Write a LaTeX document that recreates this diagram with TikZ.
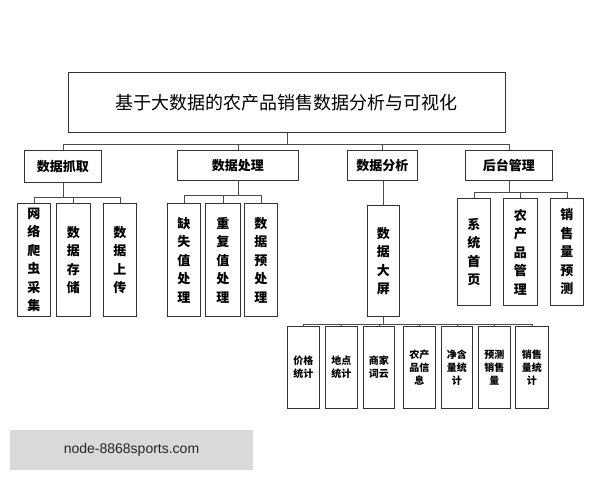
\documentclass[tikz,border=0pt]{standalone}
\usepackage{fontspec}
\setmainfont{Noto Sans CJK SC}
\newfontfamily\latinsf{Liberation Sans}
\begin{document}
\begin{tikzpicture}[x=1pt,y=-1pt,
  box/.style={draw=black!80,line width=0.8pt,inner sep=0pt,anchor=north west},
  vbox/.style={box,align=center,font=\fontsize{13}{18.5}\selectfont\bfseries},
  sbox/.style={box,align=center,font=\fontsize{10}{13}\selectfont\bfseries},
  link/.style={draw=black!70,line width=0.6pt}]
\useasboundingbox (0,0) rectangle (600,480);
% title
\node[box,minimum width=437pt,minimum height=60pt,font=\fontsize{18}{21}\selectfont] (top) at (68,72) {基于大数据的农产品销售数据分析与可视化};
% level one
\node[box,minimum width=77pt,minimum height=32pt,font=\fontsize{13}{16}\selectfont\bfseries] (grab) at (24,150) {数据抓取};
\node[box,minimum width=121pt,minimum height=30pt,font=\fontsize{13}{16}\selectfont\bfseries] (proc) at (177,150) {数据处理};
\node[box,minimum width=70pt,minimum height=30pt,font=\fontsize{13}{16}\selectfont\bfseries] (anal) at (347,150) {数据分析};
\node[box,minimum width=87pt,minimum height=30pt,font=\fontsize{13}{16}\selectfont\bfseries] (back) at (465,150) {后台管理};
% level two
\node[vbox,minimum width=33pt,minimum height=113pt] (g1) at (17,203) {网\\络\\爬\\虫\\采\\集};
\node[vbox,minimum width=34pt,minimum height=113pt] (g2) at (56,203) {数\\据\\存\\储};
\node[vbox,minimum width=33pt,minimum height=113pt] (g3) at (103,203) {数\\据\\上\\传};
\node[vbox,minimum width=33pt,minimum height=113pt] (p1) at (167,203) {缺\\失\\值\\处\\理};
\node[vbox,minimum width=35pt,minimum height=113pt] (p2) at (205,203) {重\\复\\值\\处\\理};
\node[vbox,minimum width=33pt,minimum height=113pt] (p3) at (244,203) {数\\据\\预\\处\\理};
\node[vbox,minimum width=32pt,minimum height=111pt] (a1) at (367,205) {数\\据\\大\\屏};
\node[vbox,minimum width=33pt,minimum height=107pt] (b1) at (457,198) {系\\统\\首\\页};
\node[vbox,minimum width=34pt,minimum height=107pt] (b2) at (503,198) {农\\产\\品\\管\\理};
\node[vbox,minimum width=33pt,minimum height=107pt] (b3) at (550,198) {销\\售\\量\\预\\测};
% level three
\node[sbox,minimum width=32pt,minimum height=82pt] (s1) at (287,326) {价格\\统计};
\node[sbox,minimum width=32pt,minimum height=82pt] (s2) at (325,326) {地点\\统计};
\node[sbox,minimum width=31pt,minimum height=82pt] (s3) at (363,326) {商家\\词云};
\node[sbox,minimum width=32pt,minimum height=82pt] (s4) at (403,326) {农产\\品信\\息};
\node[sbox,minimum width=31pt,minimum height=82pt] (s5) at (441,326) {净含\\量统\\计};
\node[sbox,minimum width=32pt,minimum height=82pt] (s6) at (478,326) {预测\\销售\\量};
\node[sbox,minimum width=33pt,minimum height=82pt] (s7) at (515,326) {销售\\量统\\计};
% connectors
\draw[link] (top.south) -- ++(0,11) coordinate (t0);
\draw[link] (grab.north) |- (t0) -| (back.north);
\draw[link] (proc.north) -- (proc.north |- t0);
\draw[link] (anal.north) -- (anal.north |- t0);
\foreach \up/\y/\kids in {grab/197/{g1,g2,g3},proc/195/{p1,p2,p3},back/192/{b1,b2,b3}}{
  \draw[link] (\up.south) -- (\up.south |- 0,\y);
  \foreach \k in \kids {\draw[link] (\k.north) -- (\k.north |- 0,\y) -- (\up.south |- 0,\y);}
}
\draw[link] (a1.north) -- (a1.north |- anal.south);
\draw[link] (a1.south) -- ++(0,7) coordinate (a0);
\foreach \k in {s1,s2,s3,s4,s5,s6,s7}{\draw[link] (\k.north) -- (\k.north |- a0) -- (a0);}
% watermark
\fill[black!15] (10,430) rectangle (253,470);
\node[font=\latinsf\fontsize{14}{16}\selectfont,text=black!85] (mark) at (131.5,450) {node-8868sports.com};
\end{tikzpicture}
\end{document}
